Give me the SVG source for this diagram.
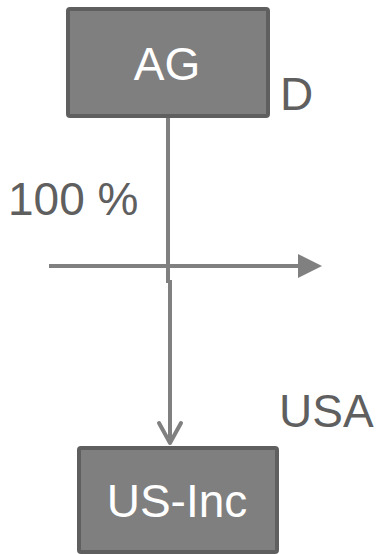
<svg xmlns="http://www.w3.org/2000/svg" width="380" height="554" viewBox="0 0 380 554">
<style>
.box{fill:#7f7f7f;stroke:#5f5f5f;stroke-width:4}
.lbl{font-family:"Liberation Sans",Arial,sans-serif;font-size:46px;fill:#ffffff;text-anchor:middle}
.txt{font-family:"Liberation Sans",Arial,sans-serif;font-size:46px;fill:#5f5f5f}
.ln{stroke:#808080;stroke-width:4;fill:none}
</style>
<defs>
<marker id="tri" markerWidth="6" markerHeight="6" refX="5" refY="3" orient="auto" markerUnits="strokeWidth"><path d="M0,0 L6,3 L0,6 z" fill="#808080"/></marker>
</defs>
<g id="connectors">
<line class="ln" x1="168" y1="117" x2="168" y2="283"/>
<line class="ln" x1="49" y1="266" x2="318" y2="266" marker-end="url(#tri)"/>
<line class="ln" x1="170" y1="280" x2="170" y2="443"/>
<polyline class="ln" points="159,423 170,443 181,423" stroke-linecap="round" stroke-linejoin="round"/>
</g>
<g id="ag">
<rect class="box" x="68" y="9" width="200" height="107" rx="2"/>
<text class="lbl" x="167" y="80">AG</text>
</g>
<g id="usinc">
<rect class="box" x="79" y="448" width="198" height="104" rx="2"/>
<text class="lbl" x="177" y="517">US-Inc</text>
</g>
<text class="txt" x="280" y="110">D</text>
<text class="txt" x="8" y="215">100 %</text>
<text class="txt" x="279" y="427">USA</text>
</svg>
